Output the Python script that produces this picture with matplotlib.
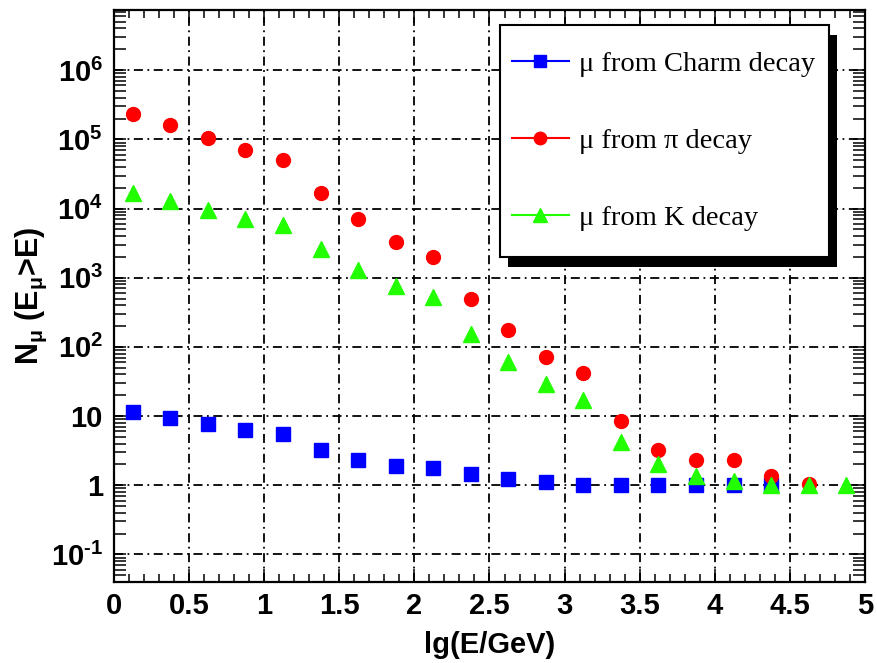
import matplotlib
matplotlib.use("Agg")
import matplotlib.pyplot as plt
from matplotlib.lines import Line2D
from matplotlib.patches import Rectangle
from matplotlib.ticker import FixedLocator, MultipleLocator, LogLocator, NullFormatter

plt.rcParams["mathtext.fontset"] = "custom"
plt.rcParams["mathtext.rm"] = "Liberation Sans:bold"
plt.rcParams["mathtext.bf"] = "Liberation Sans:bold"
plt.rcParams["mathtext.it"] = "Liberation Sans:bold"
plt.rcParams["mathtext.sf"] = "Liberation Sans:bold"

SANS = ["Liberation Sans", "DejaVu Sans"]
SERIF = ["Liberation Serif", "DejaVu Serif"]

# bin centres in lg(E/GeV)
lgE = [0.125, 0.375, 0.625, 0.875, 1.125, 1.375, 1.625, 1.875, 2.125, 2.375,
       2.625, 2.875, 3.125, 3.375, 3.625, 3.875, 4.125, 4.375, 4.625, 4.875]

n_charm = [11.5, 9.3, 7.6, 6.3, 5.6, 3.2, 2.3, 1.9, 1.75, 1.45,
           1.25, 1.1, 1.0, 1.0, 1.0, 1.0, 1.0, 1.0]
n_pion = [2.3e5, 1.6e5, 1.05e5, 7.0e4, 5.0e4, 1.7e4, 7.0e3, 3.3e3, 2.0e3, 500,
          175, 72, 42, 8.5, 3.2, 2.3, 2.3, 1.35, 1.05]
n_kaon = [1.7e4, 1.3e4, 9.5e3, 7.0e3, 5.7e3, 2.6e3, 1.3e3, 750, 520, 155,
          60, 29, 17, 4.2, 2.0, 1.35, 1.15, 1.0, 1.0, 1.0]

labels = ["μ from Charm decay", "μ from π decay", "μ from K decay"]
colors = ["#0000ff", "#ff0000", "#22ff00"]

ytick_vals = [0.1, 1, 10, 100, 1e3, 1e4, 1e5, 1e6]
ytick_text = [r"$10^{\text{-}1}$", "1", "10", r"$10^{2}$", r"$10^{3}$",
              r"$10^{4}$", r"$10^{5}$", r"$10^{6}$"]
xtick_vals = [0, 0.5, 1, 1.5, 2, 2.5, 3, 3.5, 4, 4.5, 5]
xtick_text = ["0", "0.5", "1", "1.5", "2", "2.5", "3", "3.5", "4", "4.5", "5"]

fig = plt.figure(figsize=(8.77, 6.63), dpi=100)
ax = fig.add_axes([0.130, 0.1222, 0.8563, 0.8627])

ax.plot(lgE[:len(n_charm)], n_charm, ls="none", marker="s", ms=9.5,
        color=colors[0], mec=colors[0], zorder=3)
ax.plot(lgE[:len(n_pion)], n_pion, ls="none", marker="o", ms=10,
        color=colors[1], mec=colors[1], zorder=3)
ax.plot(lgE[:len(n_kaon)], n_kaon, ls="none", marker="^", ms=11,
        color=colors[2], mec=colors[2], zorder=3)

ax.set_yscale("log")
ax.set_xlim(0, 5)
ax.set_ylim(0.04, 7.4e6)

ax.xaxis.set_major_locator(FixedLocator(xtick_vals))
ax.set_xticklabels(xtick_text)
ax.xaxis.set_minor_locator(MultipleLocator(0.1))
ax.yaxis.set_major_locator(FixedLocator(ytick_vals))
ax.set_yticklabels(ytick_text)
ax.yaxis.set_minor_locator(LogLocator(base=10, subs=range(2, 10), numticks=20))
ax.yaxis.set_minor_formatter(NullFormatter())

ax.tick_params(which="both", direction="in", top=True, right=True, width=1.1)
ax.tick_params(axis="x", which="major", length=9.5, pad=7)
ax.tick_params(axis="x", which="minor", length=6)
ax.tick_params(axis="y", which="major", length=8.5, pad=8)
ax.tick_params(axis="y", which="minor", length=8.5)
for lab in ax.get_xticklabels() + ax.get_yticklabels():
    lab.set_family(SANS)
    lab.set_fontweight("bold")
    lab.set_fontsize(21)
for sp in ax.spines.values():
    sp.set_linewidth(1.6)

ax.grid(True, which="major", color="black", lw=1.3, dashes=(5, 2.5, 1, 2.5))

ax.set_xlabel("lg(E/GeV)", family=SANS, fontweight="bold", fontsize=21, labelpad=8)
ax.set_ylabel(r"N$_{\mu}$ (E$_{\mu}$>E)", family=SANS, fontweight="bold",
              fontsize=22)
ax.yaxis.set_label_coords(-0.087, 0.5)

# legend box with ROOT style drop shadow, drawn as separate patches
box_x0, box_y0, box_w, box_h = 0.514, 0.568, 0.438, 0.406
sh_dx, sh_dy = 0.0107, -0.0175
ax.add_patch(Rectangle((box_x0 + sh_dx, box_y0 + sh_dy), box_w, box_h,
                       transform=ax.transAxes, facecolor="black", edgecolor="none",
                       clip_on=False, zorder=5))
ax.add_patch(Rectangle((box_x0, box_y0), box_w, box_h, transform=ax.transAxes,
                       facecolor="white", edgecolor="black", lw=1.5,
                       clip_on=False, zorder=5.5))

handles = [
    Line2D([], [], color=colors[0], marker="s", ms=9, lw=1.5),
    Line2D([], [], color=colors[1], marker="o", ms=9, lw=1.5),
    Line2D([], [], color=colors[2], marker="^", ms=10, lw=1.5),
]
leg = ax.legend(handles, labels, loc="center left",
                bbox_to_anchor=(0.530, box_y0 + box_h / 2),
                borderaxespad=0, borderpad=0, frameon=False,
                prop={"family": SERIF, "size": 20.5},
                handlelength=2.0, handletextpad=0.35, labelspacing=1.8)
leg.set_zorder(6)

fig.savefig("out.png", dpi=100)
